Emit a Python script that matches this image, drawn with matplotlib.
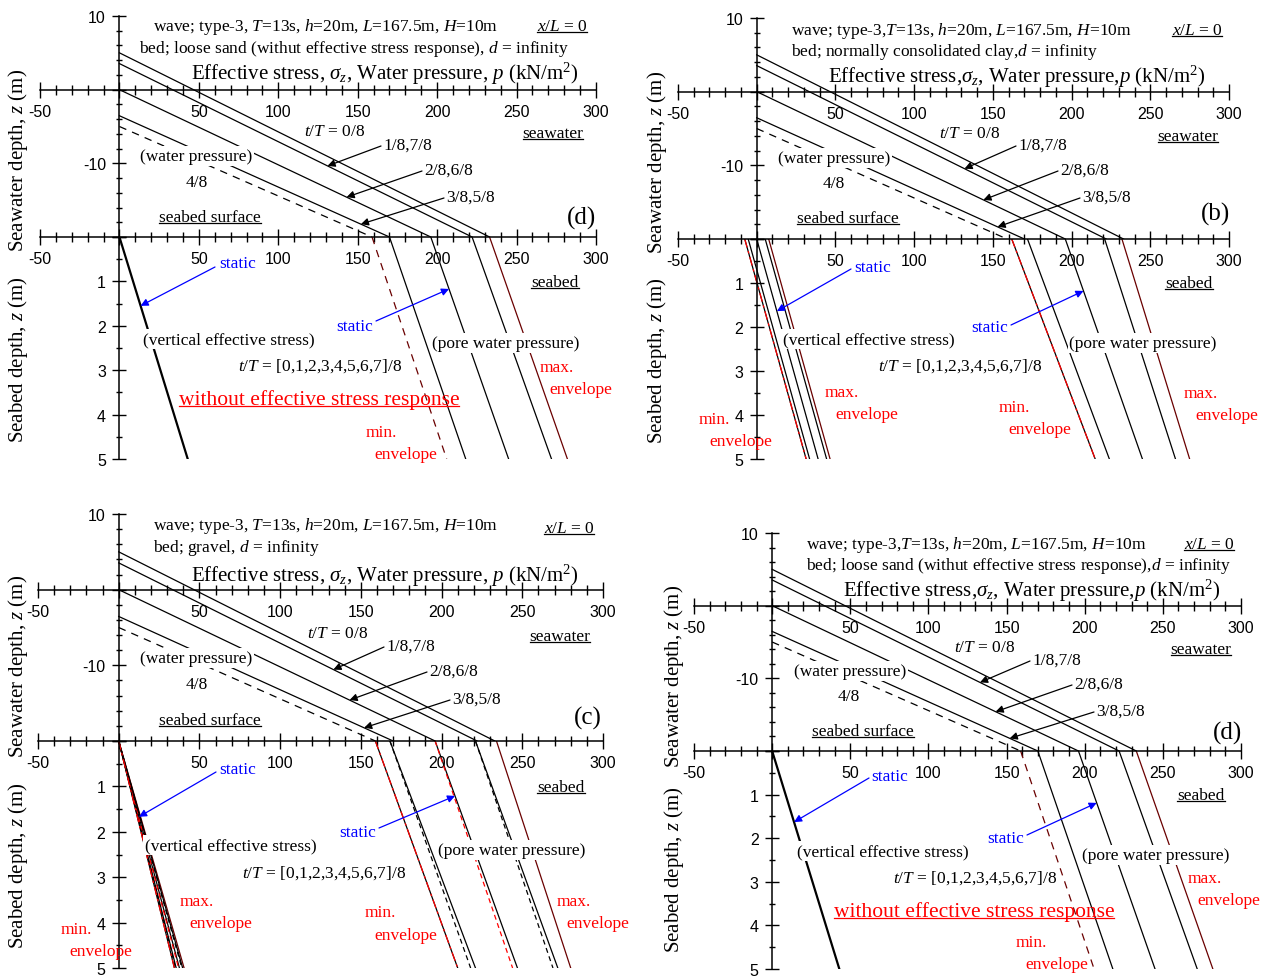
import matplotlib
matplotlib.use('Agg')
import matplotlib.pyplot as plt
from matplotlib.ticker import FixedLocator, MultipleLocator, FuncFormatter
from matplotlib.lines import Line2D
from matplotlib.transforms import IdentityTransform

# ---------------- data ----------------
h = 20.0                                        # water depth (m)
phase_labels = ['0/8', '1/8,7/8', '2/8,6/8', '3/8,5/8', '4/8']
surface_elev = [5.0, 3.54, 0.0, -3.54, -5.0]    # z where water pressure = 0
seabed_wp = [233.0, 222.0, 196.0, 170.0, 159.0] # water pressure at seabed (kN/m2)
bed_depth = [0.0, 5.0]                          # seabed depth (m)

# loose sand (without effective stress response)
sand_eff_top = [0.0]
sand_eff_bot = [43.0]
sand_pore_top = [233.0, 222.0, 196.0, 170.0, 159.0]
sand_pore_bot = [282.0, 272.0, 245.0, 218.0, 206.0]

# normally consolidated clay (t/T = 0/8, 1/8, 2/8, 3/8, 4/8)
clay_eff_top = [7.6, 5.4, 0.0, -5.4, -7.6]
clay_eff_bot = [46.6, 44.4, 39.0, 33.6, 31.4]
clay_pore_top = [232.0, 221.0, 196.0, 172.0, 162.0]
clay_pore_bot = [275.0, 266.0, 245.0, 224.0, 215.0]

# gravel (t/T = 0/8 ... 7/8)
grav_eff_top = [0.0, 0.0, 0.0, 0.0, 0.0, 0.0, 0.0, 0.0]
grav_eff_bot = [40.5, 39.6, 37.6, 35.6, 34.5, 35.2, 37.1, 39.1]
grav_pore_top = [234.0, 221.0, 196.0, 168.0, 159.0, 168.0, 196.0, 221.0]
grav_pore_bot = [280.0, 272.0, 247.0, 221.0, 210.0, 218.0, 244.0, 269.0]

XMAJ = [-50, 0, 50, 100, 150, 200, 250, 300]

# ---------------- figure ----------------
W, H = 1271, 979
plt.rcParams.update({
    'font.family': 'Liberation Sans',
    'mathtext.fontset': 'custom',
    'mathtext.rm': 'Liberation Serif',
    'mathtext.it': 'Liberation Serif:italic',
    'mathtext.bf': 'Liberation Serif:bold',
    'axes.unicode_minus': False,
})
SERIF = 'Liberation Serif'
fig = plt.figure(figsize=(W / 100, H / 100), dpi=100)
fig.patch.set_facecolor('white')

K = 'black'
DR = '#6a0000'
RED = '#ff0000'
BLUE = '#0000ff'
DASH = (0, (6, 5))
DASHDOT = (0, (7, 3, 2, 3))

underlined = []


def ftxt(x, y, s, size=12.5, ha='center', va='center', color=K, bg=False,
         ul=False, rot=0):
    t = fig.text(x / W, 1 - y / H, s, fontsize=size, ha=ha, va=va, color=color,
                 rotation=rot, family=SERIF, zorder=5)
    if bg:
        t.set_bbox(dict(facecolor='white', edgecolor='none', pad=1.2))
    if ul:
        underlined.append((t, color))
    return t


def yfmt_sea(v, p):
    return f'{int(v)}' if v in (10, -10) else ''


def yfmt_bed(v, p):
    return '' if v == 0 else f'{int(v)}'


def xfmt(v, p):
    return '' if v == 0 else f'{int(v)}'


def setup(ax, ylim, ymaj, ymin, yfmt):
    ax.set_xlim(-50, 300)
    ax.set_ylim(*ylim)
    ax.patch.set_visible(False)
    ax.spines['top'].set_visible(False)
    ax.spines['right'].set_visible(False)
    for s in ('left', 'bottom'):
        ax.spines[s].set_position(('data', 0))
        ax.spines[s].set_linewidth(1.1)
    ax.xaxis.set_major_locator(FixedLocator(XMAJ))
    ax.xaxis.set_minor_locator(MultipleLocator(10))
    ax.xaxis.set_major_formatter(FuncFormatter(xfmt))
    ax.yaxis.set_major_locator(FixedLocator(ymaj))
    ax.yaxis.set_minor_locator(MultipleLocator(ymin))
    ax.yaxis.set_major_formatter(FuncFormatter(yfmt))
    ax.tick_params(axis='x', which='major', direction='inout', length=12,
                   width=1.0, labelsize=11.5, pad=4)
    ax.tick_params(axis='x', which='minor', direction='inout', length=6.5, width=1.0)
    ax.tick_params(axis='y', which='major', direction='inout', length=9.5,
                   width=1.0, labelsize=11.5, pad=5)
    ax.tick_params(axis='y', which='minor', direction='inout', length=5, width=1.0)


def make_axes(x0, x1, ytop, ysb, ybot):
    ax_s = fig.add_axes([x0 / W, 1 - ysb / H, (x1 - x0) / W, (ysb - ytop) / H])
    ax_b = fig.add_axes([x0 / W, 1 - ybot / H, (x1 - x0) / W, (ybot - ysb) / H])
    setup(ax_s, (-h, 10), [-20, -10, 0, 10], 2, yfmt_sea)
    setup(ax_b, (5, 0), [0, 1, 2, 3, 4, 5], 0.5, yfmt_bed)
    return ax_s, ax_b


def draw_sea(ax):
    for k in range(5):
        ls = DASH if k == 4 else '-'
        ax.plot([0, seabed_wp[k]], [surface_elev[k], -h], color=K, lw=0.9, ls=ls)


def sea_y(k, x):
    return surface_elev[k] + (-h - surface_elev[k]) * x / seabed_wp[k]


def bed_x(top, bot, z):
    return top + (bot - top) * z / bed_depth[1]


def arrow(ax, tip, tail_px, color=K):
    ax.annotate('', xy=tip, xycoords='data',
                xytext=(tail_px[0] / W, 1 - tail_px[1] / H), textcoords='figure fraction',
                arrowprops=dict(arrowstyle='-|>', color=color, lw=0.9,
                                mutation_scale=11, shrinkA=0, shrinkB=0),
                annotation_clip=False)


def sea_texts(p, title1, title2, title3):
    ftxt(*p['t1'], title1, ha='left')
    ftxt(*p['t2'], title2, ha='left')
    ftxt(*p['t3'], title3, size=15, ha='left')
    ftxt(*p['xl'], r'$x/L$ = 0', ul=True)
    ftxt(*p['t0'], r'$t/T$ = 0/8')
    for lab, pos in zip(phase_labels[1:4], p['ph']):
        ftxt(pos[0], pos[1], lab, ha='left')
    ftxt(*p['wp'], '(water pressure)', bg=True)
    ftxt(*p['p4'], phase_labels[4])
    ftxt(*p['ss'], 'seabed surface', ul=True)
    ftxt(*p['sw'], 'seawater', ul=True)
    ftxt(*p['lab'][:2], p['lab'][2], size=18)
    ftxt(*p['ys'], r'Seawater depth, $z$ (m)', size=15, rot=90)
    ftxt(*p['yb'], r'Seabed depth, $z$ (m)', size=15, rot=90)
    ftxt(*p['sb'], 'seabed', ul=True)
    ftxt(*p['st1'], 'static', color=BLUE)
    ftxt(*p['st2'], 'static', color=BLUE)
    ftxt(*p['ves'], '(vertical effective stress)', bg=True)
    ftxt(*p['tt'], r'$t/T$ = [0,1,2,3,4,5,6,7]/8')
    ftxt(*p['pwp'], '(pore water pressure)', bg=True)
    for key in ('mx1', 'mx2', 'mn1', 'mn2'):
        if key in p:
            (a, b) = p[key]
            word = 'max.' if key.startswith('mx') else 'min.'
            ftxt(*a, word, color=RED)
            ftxt(*b, 'envelope', color=RED)
    if 'wo' in p:
        ftxt(*p['wo'], 'without effective stress response', size=15.5, color=RED, ul=True)


def sea_arrows(ax, p):
    for k, xt, tail in zip((1, 2, 3), p['tipx'], p['tails']):
        arrow(ax, (xt, sea_y(k, xt)), tail)


# ---------------- panel 1 (top-left): loose sand ----------------
P1 = dict(t1=(153, 27), t2=(139, 49), t3=(191, 74), xl=(562, 27), t0=(335, 132),
          ph=[(383, 146), (424, 171), (446, 198)], wp=(196, 157), p4=(197, 183),
          ss=(210, 218), sw=(553, 134), lab=(581, 218, '(d)'), ys=(18, 160), yb=(18, 360),
          sb=(555, 283), st1=(238, 264), st2=(355, 327), ves=(229, 340), tt=(320, 366),
          pwp=(506, 344), mx2=((557, 368), (581, 390)), mn2=((381, 433), (406, 455)),
          wo=(319, 400), tipx=[131, 143, 152], tails=[(381, 147), (422, 172), (444, 199)],
          st1_tail=(215, 268), st1_z=1.55, st2_tail=(376, 322), st2_z=1.17)

# ---------------- panel 2 (top-right): clay ----------------
P2 = dict(t1=(791, 31), t2=(791, 52), t3=(828, 77), xl=(1197, 31), t0=(970, 134),
          ph=[(1018, 146), (1060, 171), (1082, 198)], wp=(834, 159), p4=(834, 184),
          ss=(848, 219), sw=(1188, 137), lab=(1215, 214, '(b)'), ys=(657, 162), yb=(657, 361),
          sb=(1189, 284), st1=(873, 268), st2=(990, 328), ves=(869, 340), tt=(960, 366),
          pwp=(1143, 344), mx1=((842, 393), (867, 415)), mn1=((714, 420), (741, 442)),
          mn2=((1014, 408), (1040, 430)), mx2=((1201, 394), (1227, 416)),
          tipx=[132, 144, 153], tails=[(1016, 147), (1058, 172), (1080, 199)],
          st1_tail=(851, 270), st1_z=1.64, st2_tail=(1011, 326), st2_z=1.18)

# ---------------- panel 3 (bottom-left): gravel ----------------
P3 = dict(t1=(153, 526), t2=(153, 548), t3=(191, 576), xl=(569, 529), t0=(338, 634),
          ph=[(386, 647), (429, 672), (452, 700)], wp=(196, 659), p4=(197, 685),
          ss=(210, 721), sw=(560, 637), lab=(588, 718, '(c)'), ys=(18, 666), yb=(18, 866),
          sb=(561, 788), st1=(238, 770), st2=(358, 833), ves=(231, 846), tt=(324, 873),
          pwp=(512, 851), mx1=((197, 902), (221, 924)), mn1=((76, 930), (101, 952)),
          mn2=((380, 913), (406, 936)), mx2=((574, 902), (598, 924)),
          tipx=[133, 143, 152], tails=[(384, 648), (427, 673), (450, 701)],
          st1_tail=(216, 773), st1_z=1.67, st2_tail=(379, 829), st2_z=1.21)

# ---------------- panel 4 (bottom-right): loose sand ----------------
P4 = dict(t1=(806, 545), t2=(806, 566), t3=(843, 591), xl=(1209, 545), t0=(985, 648),
          ph=[(1032, 661), (1074, 685), (1096, 712)], wp=(850, 672), p4=(849, 697),
          ss=(863, 732), sw=(1201, 650), lab=(1228, 733, '(d)'), ys=(674, 676), yb=(674, 870),
          sb=(1201, 796), st1=(890, 777), st2=(1006, 839), ves=(883, 852), tt=(975, 878),
          pwp=(1156, 856), mx2=((1205, 879), (1229, 901)), mn2=((1031, 943), (1057, 965)),
          wo=(974, 912), tipx=[133, 143, 152], tails=[(1030, 662), (1072, 686), (1094, 713)],
          st1_tail=(869, 779), st1_z=1.63, st2_tail=(1027, 836), st2_z=1.19)


def draw_sand(ax_s, ax_b, p):
    draw_sea(ax_s)
    ax_b.plot([sand_eff_top[0], sand_eff_bot[0]], bed_depth, color=K, lw=1.6)
    for k in range(5):
        col = DR if k in (0, 4) else K
        ls = DASH if k == 4 else '-'
        ax_b.plot([sand_pore_top[k], sand_pore_bot[k]], bed_depth, color=col, lw=0.9, ls=ls)
    sea_arrows(ax_s, p)
    z = p['st1_z']
    arrow(ax_b, (bed_x(sand_eff_top[0], sand_eff_bot[0], z), z), p['st1_tail'], BLUE)
    z = p['st2_z']
    arrow(ax_b, (bed_x(sand_pore_top[2], sand_pore_bot[2], z), z), p['st2_tail'], BLUE)


# panel 1
a1s, a1b = make_axes(40, 596, 17, 238, 460)
draw_sand(a1s, a1b, P1)
sea_texts(P1, r'wave; type-3, $T$=13s, $h$=20m, $L$=167.5m, $H$=10m',
          r'bed; loose sand (withut effective stress response), $d$ = infinity',
          r'Effective stress, $\sigma_z$, Water pressure, $p$ (kN/m$^2$)')

# panel 2
a2s, a2b = make_axes(678, 1229, 19, 240, 460)
draw_sea(a2s)
for top, bot in ((clay_eff_top, clay_eff_bot), (clay_pore_top, clay_pore_bot)):
    for k in range(5):
        a2b.plot([top[k], bot[k]], bed_depth, color=DR if k == 0 else K, lw=0.9)
    a2b.plot([top[4], bot[4]], bed_depth, color=RED, lw=0.9, ls=DASHDOT)
sea_arrows(a2s, P2)
z = P2['st1_z']
arrow(a2b, (bed_x(clay_eff_top[2], clay_eff_bot[2], z), z), P2['st1_tail'], BLUE)
z = P2['st2_z']
arrow(a2b, (bed_x(clay_pore_top[2], clay_pore_bot[2], z), z), P2['st2_tail'], BLUE)
sea_texts(P2, r'wave; type-3,$T$=13s, $h$=20m, $L$=167.5m, $H$=10m',
          r'bed; normally consolidated clay,$d$ = infinity',
          r'Effective stress,$\sigma_z$, Water pressure,$p$ (kN/m$^2$)')

# panel 3
a3s, a3b = make_axes(38, 603, 515, 742, 969)
draw_sea(a3s)
for top, bot in ((grav_eff_top, grav_eff_bot), (grav_pore_top, grav_pore_bot)):
    for k in range(8):
        if k < 5:
            col, ls = (DR if k == 0 else K), '-'
        else:
            col, ls = (RED if k == 6 else K), (0, (4, 3))
        a3b.plot([top[k], bot[k]], bed_depth, color=col, lw=0.9, ls=ls)
    a3b.plot([top[4], bot[4]], bed_depth, color=RED, lw=0.9, ls=DASHDOT)
sea_arrows(a3s, P3)
z = P3['st1_z']
arrow(a3b, (bed_x(grav_eff_top[2], grav_eff_bot[2], z), z), P3['st1_tail'], BLUE)
z = P3['st2_z']
arrow(a3b, (bed_x(grav_pore_top[2], grav_pore_bot[2], z), z), P3['st2_tail'], BLUE)
sea_texts(P3, r'wave; type-3, $T$=13s, $h$=20m, $L$=167.5m, $H$=10m',
          r'bed; gravel, $d$ = infinity',
          r'Effective stress, $\sigma_z$, Water pressure, $p$ (kN/m$^2$)')

# panel 4
a4s, a4b = make_axes(694, 1241, 534, 752, 970)
draw_sand(a4s, a4b, P4)
sea_texts(P4, r'wave; type-3,$T$=13s, $h$=20m, $L$=167.5m, $H$=10m',
          r'bed; loose sand (withut effective stress response),$d$ = infinity',
          r'Effective stress,$\sigma_z$, Water pressure,$p$ (kN/m$^2$)')

# underlines
fig.canvas.draw()
r = fig.canvas.get_renderer()
for t, col in underlined:
    bb = t.get_window_extent(r)
    y = bb.y0 + 0.13 * bb.height
    fig.add_artist(Line2D([bb.x0, bb.x1], [y, y], color=col, lw=0.9,
                          transform=IdentityTransform(), zorder=6))

fig.savefig('out.png', dpi=100, facecolor='white')
